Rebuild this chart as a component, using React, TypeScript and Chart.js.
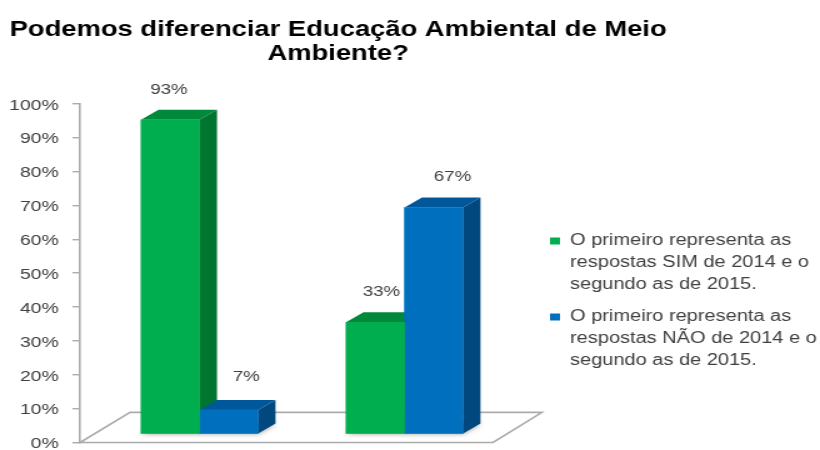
import React, { useEffect, useRef } from "react";
import { Chart, registerables } from "chart.js";

Chart.register(...registerables);

const titleLines = ["Podemos diferenciar Educação Ambiental de Meio", "Ambiente?"];
const groupPositions = [0, 1];
const simValues = [93, 33];
const naoValues = [7, 67];
const simLabel = ["O primeiro representa as", "respostas SIM de 2014 e o", "segundo as de 2015."];
const naoLabel = ["O primeiro representa as", "respostas NÃO de 2014 e o", "segundo as de 2015."];
const yTicks = [0, 10, 20, 30, 40, 50, 60, 70, 80, 90, 100];

const CANVAS_W = 656; // stretched to 820 by CSS, as the reference is stretched
const CANVAS_H = 450;
const DEPTH_X = 14;
const DEPTH_Y = 10;
const FONT = "'Liberation Sans', Arial, sans-serif";
const TEXT = "#404040";
const AXIS = "#ababab";

const simColors = { front: "#00ae4f", side: "#00752f", top: "#00893a" };
const naoColors = { front: "#006fbe", side: "#00487d", top: "#00589b" };

const floorPlugin = {
  id: "floor3d",
  afterLayout(chart: any) {
    const t = chart.titleBlock;
    t.left = 0;
    t.right = 541;
    const l = chart.legend;
    l.left = 430;
    l.right = CANVAS_W;
    l.top = 223;
    l.bottom = CANVAS_H;
  },
  beforeDatasetsDraw(chart: any) {
    const { ctx } = chart;
    const xs = chart.scales.x;
    const ys = chart.scales.y;
    const pts = [
      [xs.getPixelForValue(-0.583), ys.getPixelForValue(0)],
      [xs.getPixelForValue(1.432), ys.getPixelForValue(0)],
      [xs.getPixelForValue(1.671), ys.getPixelForValue(8.9)],
      [xs.getPixelForValue(-0.339), ys.getPixelForValue(8.9)],
    ];
    ctx.save();
    ctx.strokeStyle = AXIS;
    ctx.lineWidth = 1.6;
    ctx.fillStyle = "#ffffff";
    ctx.beginPath();
    pts.forEach((p, i) => (i ? ctx.lineTo(p[0], p[1]) : ctx.moveTo(p[0], p[1])));
    ctx.closePath();
    ctx.fill();
    ctx.stroke();

    // Soft contact shadow under each bar.
    chart.data.datasets.forEach((ds: any, di: number) => {
      chart.getDatasetMeta(di).data.forEach((bar: any) => {
        const l = bar.x - bar.width / 2;
        const r = bar.x + bar.width / 2;
        const b = bar.base;
        ctx.save();
        ctx.shadowColor = "rgba(0,0,0,0.45)";
        ctx.shadowBlur = 5;
        ctx.fillStyle = "#9a9a9a";
        ctx.beginPath();
        ctx.moveTo(l, b);
        ctx.lineTo(r, b);
        ctx.lineTo(r + DEPTH_X, b - DEPTH_Y);
        ctx.lineTo(l + DEPTH_X, b - DEPTH_Y);
        ctx.closePath();
        ctx.fill();
        ctx.restore();
      });
    });

    // Extruded sides and tops, behind the front faces drawn by the bar controller.
    chart.data.datasets.forEach((ds: any, di: number) => {
      const colors = di === 0 ? simColors : naoColors;
      chart.getDatasetMeta(di).data.forEach((bar: any) => {
        const l = bar.x - bar.width / 2;
        const r = bar.x + bar.width / 2;
        const t = bar.y;
        const b = bar.base;
        ctx.fillStyle = colors.side;
        ctx.beginPath();
        ctx.moveTo(r, t);
        ctx.lineTo(r + DEPTH_X, t - DEPTH_Y);
        ctx.lineTo(r + DEPTH_X, b - DEPTH_Y);
        ctx.lineTo(r, b);
        ctx.closePath();
        ctx.fill();
        ctx.fillStyle = colors.top;
        ctx.beginPath();
        ctx.moveTo(l, t);
        ctx.lineTo(l + DEPTH_X, t - DEPTH_Y);
        ctx.lineTo(r + DEPTH_X, t - DEPTH_Y);
        ctx.lineTo(r, t);
        ctx.closePath();
        ctx.fill();
      });
    });
    ctx.restore();
  },
  afterDatasetsDraw(chart: any) {
    const { ctx } = chart;
    const shiftX = [[-1, 5], [14, 15]];
    const shiftY = [[30.5, 30.5], [33.5, 30.5]];
    ctx.save();
    ctx.font = `15px ${FONT}`;
    ctx.fillStyle = TEXT;
    ctx.textAlign = "center";
    ctx.textBaseline = "middle";
    chart.data.datasets.forEach((ds: any, di: number) => {
      chart.getDatasetMeta(di).data.forEach((bar: any, i: number) => {
        ctx.fillText(`${ds.data[i].y}%`, bar.x + shiftX[di][i], bar.y - shiftY[di][i]);
      });
    });
    ctx.restore();
  },
};

export default function App() {
  const ref = useRef<HTMLCanvasElement>(null);
  useEffect(() => {
    const canvas = ref.current!;
    const chart = new Chart(canvas, {
      type: "bar",
      plugins: [floorPlugin],
      data: {
        datasets: [
          {
            label: simLabel as any,
            data: groupPositions.map((x, i) => ({ x, y: simValues[i] })),
            backgroundColor: simColors.front,
            yAxisID: "y1",
          },
          {
            label: naoLabel as any,
            data: groupPositions.map((x, i) => ({ x, y: naoValues[i] })),
            backgroundColor: naoColors.front,
            yAxisID: "y1",
          },
        ],
      },
      options: {
        responsive: false,
        animation: false,
        devicePixelRatio: 1,
        layout: { padding: { left: 0, right: 226, top: 0, bottom: 7.5 } },
        datasets: { bar: { barThickness: 46.8 } },
        scales: {
          x: { type: "linear", offset: false, min: -0.583, max: 1.649, display: false, grid: { display: false } },
          y: {
            min: 0,
            max: 100,
            afterFit(s: any) {
              s.width = 64;
              s.paddingTop = 0;
              s.paddingBottom = 0;
            },
            afterBuildTicks(s: any) {
              s.ticks = yTicks.map((value) => ({ value }));
            },
            border: { display: true, color: AXIS, width: 1.6 },
            grid: { drawOnChartArea: false, drawTicks: true, tickLength: 6, color: AXIS, lineWidth: 1.4 },
            ticks: {
              padding: 11,
              labelOffset: 1.5,
              color: TEXT,
              font: { family: FONT, size: 15.5 },
              callback: (v: any) => `${v}%`,
            },
          },
          y1: { display: false, min: -2.67, max: 97.78 },
        },
        plugins: {
          tooltip: { enabled: false },
          title: {
            display: true,
            text: titleLines,
            color: "#000000",
            font: { family: FONT, size: 21.9, weight: "bold", lineHeight: 1.09 },
            padding: { top: 18, bottom: 38 },
          },
          legend: {
            position: "chartArea" as any,
            align: "start",
            labels: {
              boxWidth: 8,
              boxHeight: 7,
              padding: 10,
              color: TEXT,
              font: { family: FONT, size: 16, lineHeight: 1.375 },
            },
          },
        },
      } as any,
    });
    return () => chart.destroy();
  }, []);
  return (
    <canvas
      ref={ref}
      width={CANVAS_W}
      height={CANVAS_H}
      style={{ position: "absolute", left: 0, top: 0, width: 820, height: 450, display: "block", filter: "blur(0.4px)" }}
    />
  );
}
